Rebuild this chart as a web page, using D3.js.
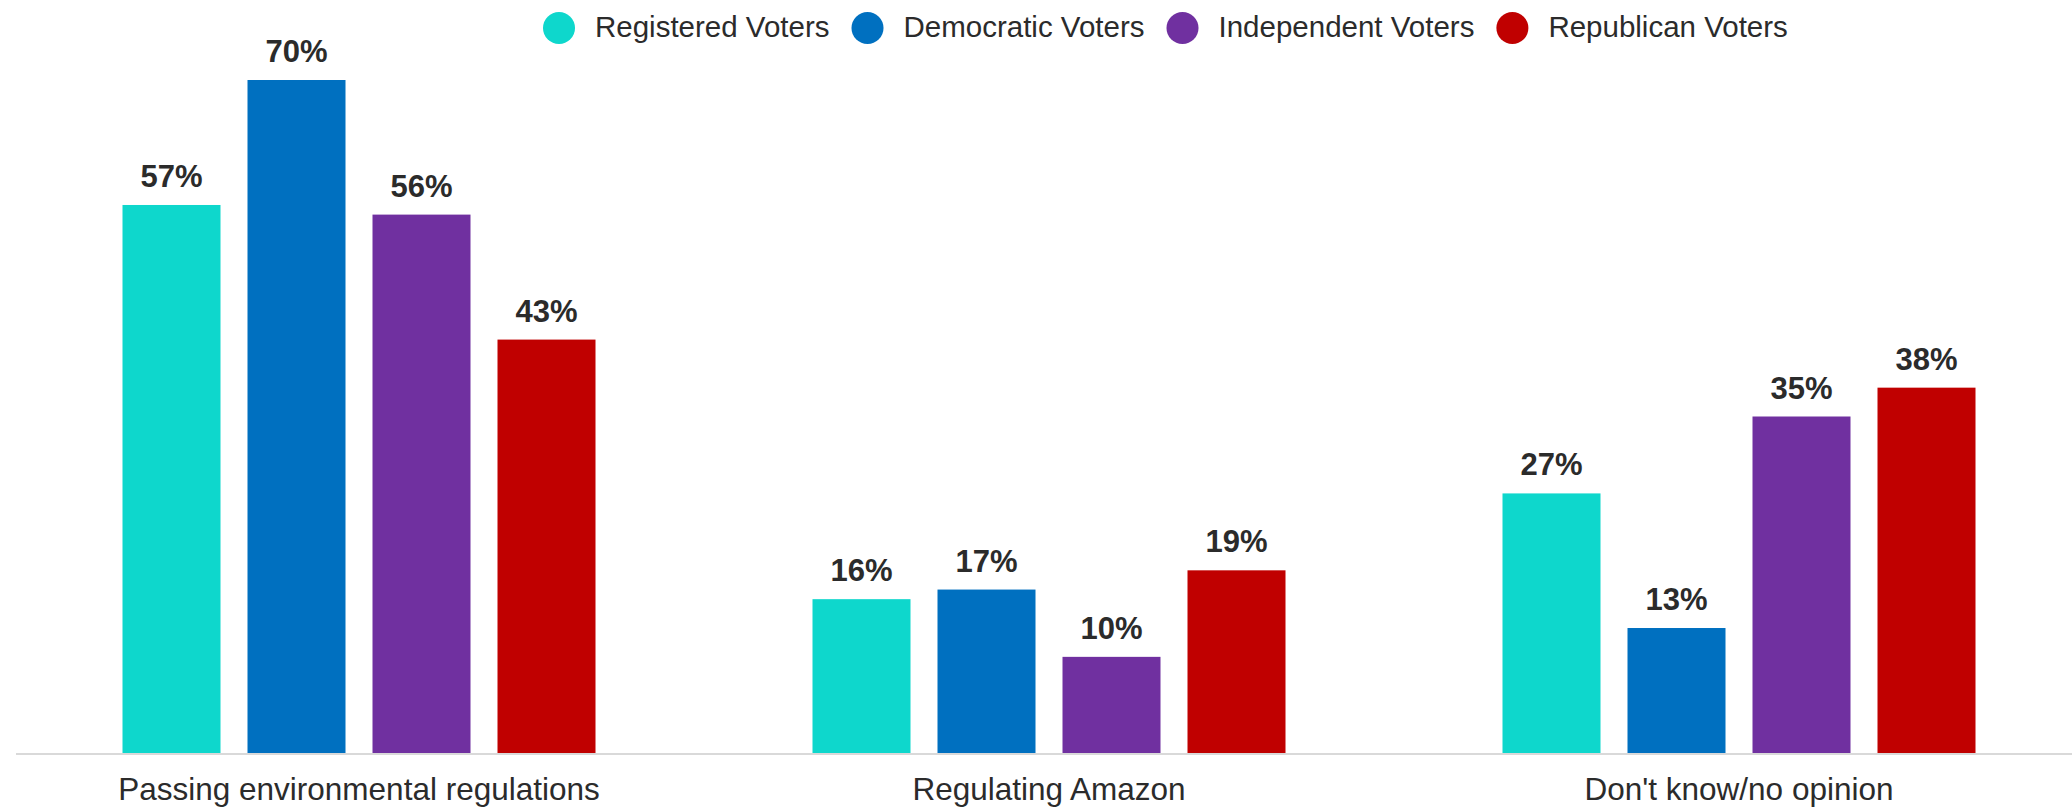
<!DOCTYPE html>
<html>
<head>
<meta charset="utf-8">
<script src="https://cdn.jsdelivr.net/npm/d3@7"></script>
<style>
  html, body { margin: 0; padding: 0; background: #fff; }
  svg text { font-family: Arial, "Liberation Sans", sans-serif; }
</style>
</head>
<body>
<div id="chart"></div>
<script>
const categories = ["Passing environmental regulations", "Regulating Amazon", "Don't know/no opinion"]
const seriesNames = ["Registered Voters", "Democratic Voters", "Independent Voters", "Republican Voters"]
const seriesColors = ["#0ED7CC", "#0070C0", "#7030A0", "#C00000"]
// values per series, in category order
const registered = [57, 16, 27]
const democratic = [70, 17, 13]
const independent = [56, 10, 35]
const republican = [43, 19, 38]

const values = [registered, democratic, independent, republican]

const width = 2072,
    height = 812

let svg = d3.select("#chart").append("svg")
    .attr("width", width)
    .attr("height", height)

const baseY = 753

let x0 = d3.scaleBand()
    .domain(categories)
    .range([14, 2084])

let x1 = d3.scaleBand()
    .domain(seriesNames)
    .range([-250, 250])
    .paddingInner(0.216)
    .paddingOuter(0.108)

let y = d3.scaleLinear()
    .domain([0, 70])
    .range([baseY, 80])

// one row per (category, series)
let rows = []
categories.forEach((c, ci) => {
    seriesNames.forEach((s, si) => {
        rows.push({cat: c, series: s, value: values[si][ci], color: seriesColors[si]})
    })
})

let cx = c => x0(c) + x0.bandwidth() / 2

svg.append("g")
    .selectAll("rect")
    .data(rows)
    .join("rect")
    .attr("x", d => cx(d.cat) + x1(d.series))
    .attr("y", d => y(d.value))
    .attr("width", x1.bandwidth())
    .attr("height", d => baseY - y(d.value))
    .attr("fill", d => d.color)

svg.append("g")
    .selectAll("text")
    .data(rows)
    .join("text")
    .attr("x", d => cx(d.cat) + x1(d.series) + x1.bandwidth() / 2)
    .attr("y", d => y(d.value) - 18)
    .attr("text-anchor", "middle")
    .attr("font-size", 31)
    .attr("font-weight", "bold")
    .attr("fill", "#2b2b2b")
    .text(d => d.value + "%")

// baseline
svg.append("line")
    .attr("x1", 16)
    .attr("x2", width)
    .attr("y1", baseY + 1)
    .attr("y2", baseY + 1)
    .attr("stroke", "#d9d9d9")
    .attr("stroke-width", 2)

// category labels
svg.append("g")
    .selectAll("text")
    .data(categories)
    .join("text")
    .attr("x", d => cx(d))
    .attr("y", 800)
    .attr("text-anchor", "middle")
    .attr("font-size", 31.5)
    .attr("fill", "#2b2b2b")
    .text(d => d)

// legend: each item starts 74px after the previous text ends
let legend = svg.append("g").attr("class", "legend")
let lx = 595
seriesNames.forEach((s, i) => {
    legend.append("circle")
        .attr("cx", lx - 36)
        .attr("cy", 28)
        .attr("r", 16)
        .attr("fill", seriesColors[i])
    let t = legend.append("text")
        .attr("x", lx)
        .attr("y", 37)
        .attr("font-size", 29.5)
        .attr("fill", "#2b2b2b")
        .text(s)
    lx = lx + t.node().getComputedTextLength() + 74
})
</script>
</body>
</html>
